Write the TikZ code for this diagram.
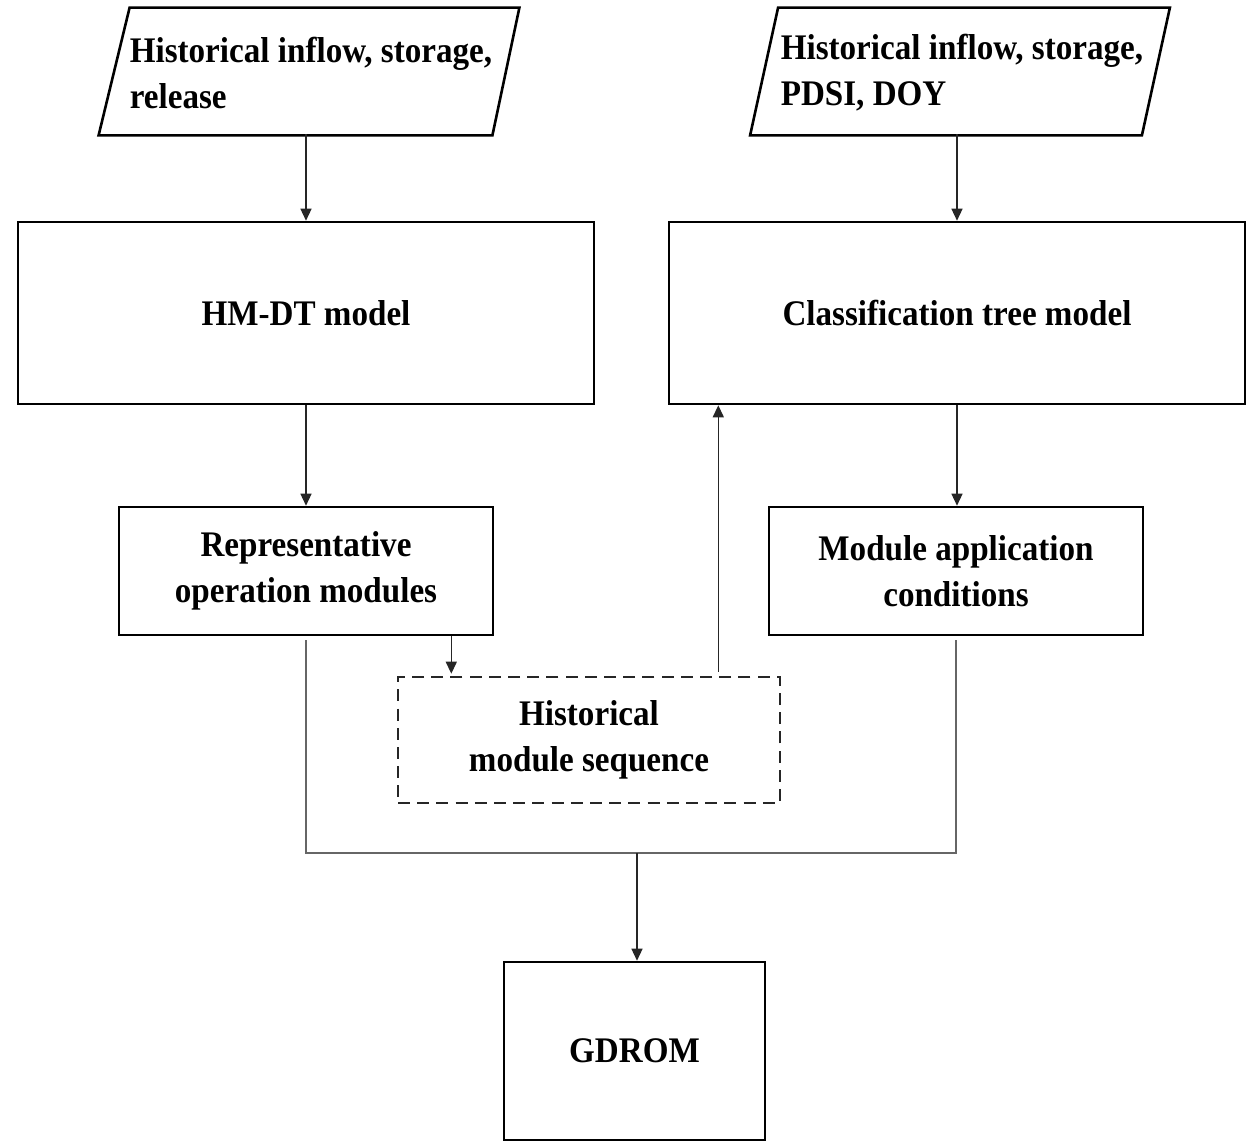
\documentclass[tikz,border=0pt]{standalone}
\usepackage{fontspec}
\setmainfont{Liberation Serif}[FakeStretch=0.92]
\usetikzlibrary{arrows.meta,calc}
\begin{document}
\begin{tikzpicture}[x=0.5pt,y=-0.5pt,
  txt/.style={font=\bfseries\fontsize{18}{23}\selectfont},
  box/.style={txt, draw=black, line width=1.3pt, rectangle, align=center, inner sep=0pt},
  dbox/.style={box, draw=black!85, dash pattern=on 6pt off 3.6pt},
  inbox/.style={txt, rectangle, align=left, inner sep=0pt},
  para/.style={draw=black, line width=1.3pt, line join=miter},
  arr/.style={draw=black!85, line width=0.7pt, -{Triangle[length=6pt,width=5.5pt]}},
  conn/.style={draw=black!60, line width=0.7pt}]
\useasboundingbox (0,0) rectangle (1255,1142);

% input parallelograms
\node[inbox, minimum width=195.5pt, minimum height=63.5pt] (in1) at (311,72.5)
  {Historical inflow, storage,\\release};
\draw[para] ($(in1.north west)+(14.5,-1)$) -- ($(in1.north east)+(12.5,-1)$)
  -- ($(in1.south east)+(-14.5,-1)$) -- ($(in1.south west)+(-16.5,-1)$) -- cycle;
\node[inbox, minimum width=195.5pt, minimum height=63.5pt] (in2) at (962,72.5)
  {Historical inflow, storage,\\PDSI, DOY};
\draw[para] ($(in2.north west)+(12,-1)$) -- ($(in2.north east)+(12,-1)$)
  -- ($(in2.south east)+(-16,-1)$) -- ($(in2.south west)+(-16,-1)$) -- cycle;

% boxes
\node[box, minimum width=288pt, minimum height=91pt] (hmdt) at (306,313) {HM-DT model};
\node[box, minimum width=288pt, minimum height=91pt] (ctm) at (957,313) {Classification tree model};
\node[box, minimum width=187pt, minimum height=64pt] (rom) at (306,571) {Representative\\operation modules};
\node[box, minimum width=187pt, minimum height=64pt] (mac) at (956,571) {Module application\\conditions};
\node[dbox, minimum width=191pt, minimum height=63pt] (hms) at (589,740) {\raisebox{-1.5pt}{Historical}\\\raisebox{-1.5pt}{module sequence}};
\node[box, minimum width=130.5pt, minimum height=89pt] (gdrom) at (634.5,1051) {GDROM};
\coordinate (j) at (637,853);

% connectors
\draw[arr] (hmdt.north |- in1.south) ++(0,-2) -- (hmdt.north);
\draw[arr] (ctm.north |- in2.south) ++(0,-2) -- (ctm.north);
\draw[arr] (hmdt.south) -- (rom.north);
\draw[arr] (ctm.south) -- (ctm.south |- mac.north);
\draw[arr] ([xshift=-21.5pt]rom.south east) -- ([xshift=-21.5pt,yshift=1pt]rom.south east |- hms.north);
\draw[arr] ([xshift=-31.5pt,yshift=2pt]hms.north east) -- ([xshift=-31.5pt]hms.north east |- ctm.south);
\draw[conn] ([yshift=-2pt]rom.south) -- (rom.south |- j) -- (mac.south |- j) -- ([yshift=-2pt]mac.south);
\draw[arr] (j) -- (j |- gdrom.north);
\end{tikzpicture}
\end{document}
